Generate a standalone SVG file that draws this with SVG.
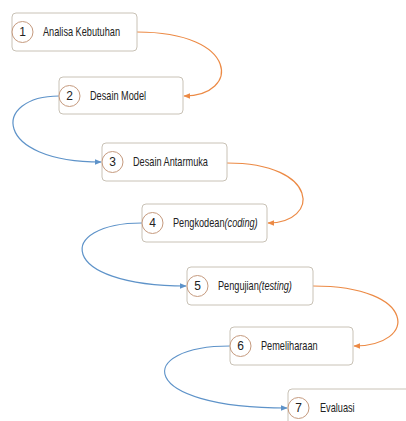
<svg xmlns="http://www.w3.org/2000/svg" width="406" height="421" viewBox="0 0 406 421">
  <style>
    .box { fill: #ffffff; stroke: #c9c2b6; stroke-width: 1; }
    .num { fill: #ffffff; stroke: #c59a7e; stroke-width: 1; }
    .label { font-family: "Liberation Sans", Arial, sans-serif; font-size: 12px; fill: #222222; }
    .em { font-style: italic; }
    .digit { font-family: "Liberation Sans", Arial, sans-serif; font-size: 12px; fill: #222222; text-anchor: middle; }
    .orange { fill: none; stroke: #ec8a45; stroke-width: 1.2; }
    .blue { fill: none; stroke: #5e93c9; stroke-width: 1.2; }
  </style>
  <defs>
    <marker id="arrowOrange" viewBox="0 0 10 10" refX="9" refY="5" markerWidth="6" markerHeight="6" orient="auto">
      <path d="M0,1 L10,5 L0,9 Z" fill="#ec8a45"/>
    </marker>
    <marker id="arrowBlue" viewBox="0 0 10 10" refX="9" refY="5" markerWidth="6" markerHeight="6" orient="auto">
      <path d="M0,1 L10,5 L0,9 Z" fill="#5e93c9"/>
    </marker>
  </defs>

  <rect width="406" height="421" fill="#ffffff"/>

  <g id="connectors">
    <path class="orange" marker-end="url(#arrowOrange)" d="M137,32 C240,32 240,96 184,96"/>
    <path class="blue" marker-end="url(#arrowBlue)" d="M59,96 C-8,96 -8,162 101,162"/>
    <path class="orange" marker-end="url(#arrowOrange)" d="M227,163 C320,163 320,223 268,223"/>
    <path class="blue" marker-end="url(#arrowBlue)" d="M142,223 C56,223 56,286 186,286"/>
    <path class="orange" marker-end="url(#arrowOrange)" d="M313,286 C418,286 418,346 354,346"/>
    <path class="blue" marker-end="url(#arrowBlue)" d="M230,346 C135,346 135,408 287,408"/>
  </g>

  <!-- labels are set in a narrowed sans (horizontal scale 0.765) -->
  <g id="step1">
    <rect class="box" x="12" y="13" width="125" height="38" rx="4"/>
    <circle class="num" cx="22.5" cy="32" r="10.5"/>
    <text class="digit" x="22.5" y="36">1</text>
    <text class="label" transform="translate(43,36) scale(0.765,1)">Analisa Kebutuhan</text>
  </g>

  <g id="step2">
    <rect class="box" x="59" y="77" width="124" height="37" rx="4"/>
    <circle class="num" cx="69.5" cy="96" r="10.5"/>
    <text class="digit" x="69.5" y="100">2</text>
    <text class="label" transform="translate(90,100) scale(0.765,1)">Desain Model</text>
  </g>

  <g id="step3">
    <rect class="box" x="102" y="143" width="125" height="38" rx="4"/>
    <circle class="num" cx="112.5" cy="162" r="10.5"/>
    <text class="digit" x="112.5" y="166">3</text>
    <text class="label" transform="translate(133,166) scale(0.765,1)">Desain Antarmuka</text>
  </g>

  <g id="step4">
    <rect class="box" x="142" y="204" width="125" height="38" rx="4"/>
    <circle class="num" cx="152.5" cy="223" r="10.5"/>
    <text class="digit" x="152.5" y="227">4</text>
    <text class="label" transform="translate(173,227) scale(0.765,1)">Pengkodean<tspan class="em">(coding)</tspan></text>
  </g>

  <g id="step5">
    <rect class="box" x="187" y="267" width="126" height="38" rx="4"/>
    <circle class="num" cx="197.5" cy="286" r="10.5"/>
    <text class="digit" x="197.5" y="290">5</text>
    <text class="label" transform="translate(218,290) scale(0.765,1)">Pengujian<tspan class="em">(testing)</tspan></text>
  </g>

  <g id="step6">
    <rect class="box" x="230" y="327" width="123" height="38" rx="4"/>
    <circle class="num" cx="240.5" cy="346" r="10.5"/>
    <text class="digit" x="240.5" y="350">6</text>
    <text class="label" transform="translate(261,350) scale(0.765,1)">Pemeliharaan</text>
  </g>

  <g id="step7">
    <rect class="box" x="288" y="389" width="125" height="38" rx="4"/>
    <circle class="num" cx="298.5" cy="408" r="10.5"/>
    <text class="digit" x="298.5" y="412">7</text>
    <text class="label" transform="translate(320,412) scale(0.765,1)">Evaluasi</text>
  </g>
</svg>
